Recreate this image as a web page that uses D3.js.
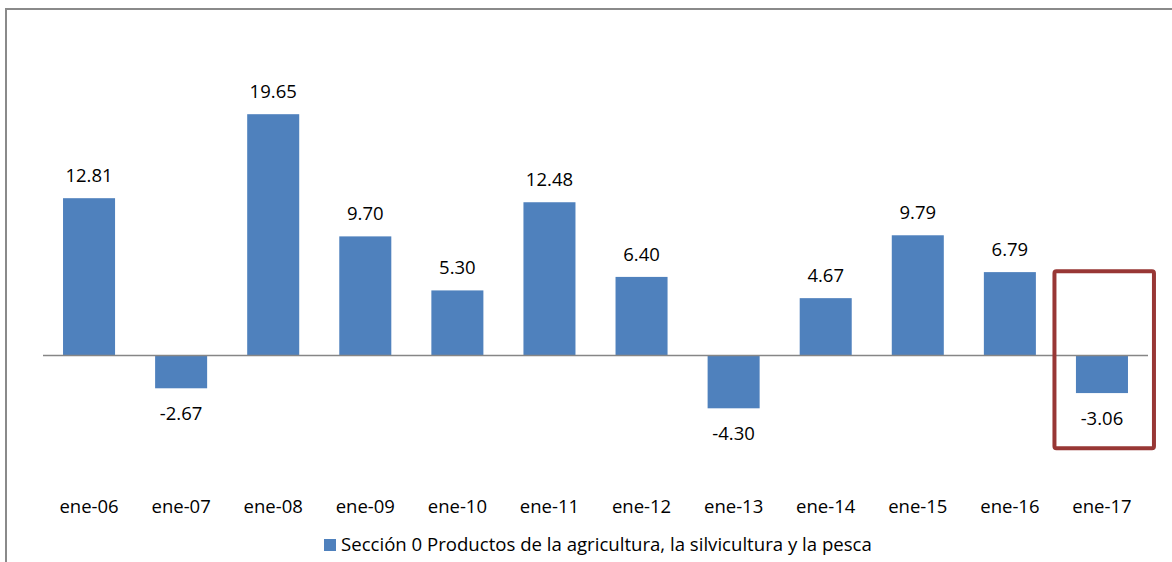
<!DOCTYPE html>
<html>
<head>
<meta charset="utf-8">
<script src="https://cdn.jsdelivr.net/npm/d3@7"></script>
<style>
  html, body { margin: 0; padding: 0; background: #fff; }
  svg { display: block; }
  text { font-family: "Open Sans", "Noto Sans", sans-serif; fill: #000; }
</style>
</head>
<body>
<svg id="chart" width="1172" height="562"></svg>
<script>
const categories = ["ene-06","ene-07","ene-08","ene-09","ene-10","ene-11","ene-12","ene-13","ene-14","ene-15","ene-16","ene-17"];
const values = [12.81, -2.67, 19.65, 9.70, 5.30, 12.48, 6.40, -4.30, 4.67, 9.79, 6.79, -3.06];
const seriesName = "Sección 0 Productos de la agricultura, la silvicultura y la pesca";
const highlighted = ["ene-17"];

const W = 1172, H = 562;
const svg = d3.select("#chart");

const x = d3.scaleBand().domain(categories).range([43, 1148]).paddingInner(0.435).paddingOuter(0.2175);
const y = d3.scaleLinear().domain([-10, 25]).range([355.5 + 10 * 12.28, 355.5 - 25 * 12.28]);

// outer frame (left and top edges visible)
svg.append("path")
  .attr("d", `M6,${H} L6,9 L${W},9`)
  .attr("fill", "none").attr("stroke", "#8a8a8a").attr("stroke-width", 2);

// bars
svg.append("g").selectAll("rect").data(values).join("rect")
  .attr("x", (d, i) => x(categories[i]))
  .attr("width", x.bandwidth())
  .attr("y", d => d >= 0 ? y(d) : y(0))
  .attr("height", d => Math.abs(y(d) - y(0)))
  .attr("fill", "#4f81bd");

// zero axis line
svg.append("line")
  .attr("x1", 43).attr("x2", 1148)
  .attr("y1", y(0)).attr("y2", y(0))
  .attr("stroke", "#868686").attr("stroke-width", 1.5);

// data labels
svg.append("g").selectAll("text").data(values).join("text")
  .attr("x", (d, i) => x(categories[i]) + x.bandwidth() / 2)
  .attr("y", d => d >= 0 ? y(d) - 16 : y(d) + 32)
  .attr("text-anchor", "middle")
  .attr("font-size", 18.5)
  .text(d => d.toFixed(2));

// category axis labels
const xAxis = d3.axisBottom(x).tickSize(0).tickPadding(0);
const gx = svg.append("g").call(xAxis);
gx.select(".domain").remove();
gx.selectAll("text")
  .attr("y", 513).attr("dy", null)
  .attr("font-size", 18.5)
  .style("font-family", '"Open Sans", "Noto Sans", sans-serif')
  .attr("fill", "#000");

// highlight box around last category
highlighted.forEach(c => {
  const cx = x(c) + x.bandwidth() / 2;
  svg.append("rect")
    .attr("x", cx - 47.5).attr("width", 99.5)
    .attr("y", y(6.87)).attr("height", y(-7.55) - y(6.87))
    .attr("rx", 2)
    .attr("fill", "none").attr("stroke", "#983735").attr("stroke-width", 4);
});

// legend
const lg = svg.append("g");
lg.append("rect").attr("x", 324).attr("y", 539).attr("width", 12).attr("height", 12).attr("fill", "#4f81bd");
lg.append("text").attr("x", 341).attr("y", 551).attr("font-size", 18.6).text(seriesName);
</script>
</body>
</html>
